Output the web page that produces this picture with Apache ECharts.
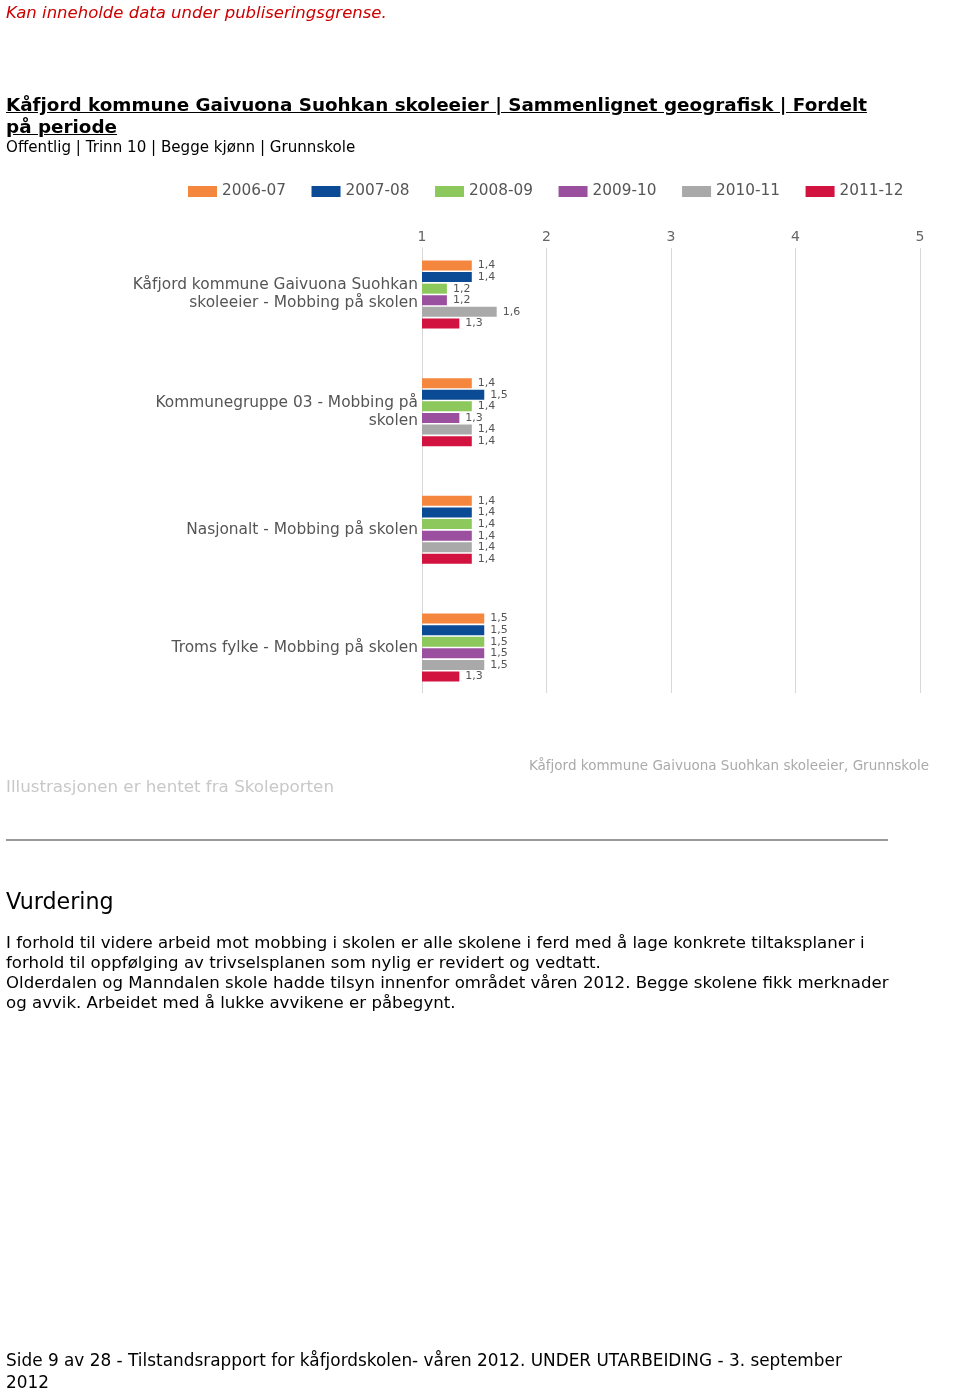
<!DOCTYPE html>
<html>
<head>
<meta charset="utf-8">
<script src="https://cdn.jsdelivr.net/npm/echarts@6/dist/echarts.min.js"></script>
<style>
  html, body { margin: 0; padding: 0; background: #fff; }
  body { width: 960px; height: 1392px; position: relative; overflow: hidden; font-family: "DejaVu Sans", Verdana, sans-serif; color: #000; }
  #chart { position: absolute; left: 0; top: 0; width: 960px; height: 1392px; }
  .t { position: absolute; left: 6px; white-space: nowrap; z-index: 2; }
  #warn { top: 3px; font-size: 16.5px; line-height: 20px; color: #cc0000; font-style: italic; }
  #title { top: 94px; font-size: 18.35px; line-height: 22px; font-weight: bold; text-decoration: underline; }
  #sub { top: 138px; font-size: 15.1px; line-height: 18px; }
  #hr { position: absolute; left: 6px; top: 839px; width: 882px; height: 0; border-top: 2px solid #9a9a9a; z-index: 2; }
  #vurd { top: 887px; font-size: 22.2px; line-height: 28px; }
  #para { top: 933px; font-size: 16.6px; line-height: 20px; }
  #foot { top: 1349px; font-size: 16.9px; line-height: 22px; }
</style>
</head>
<body>
<div id="chart"></div>
<div class="t" id="warn">Kan inneholde data under publiseringsgrense.</div>
<div class="t" id="title">Kåfjord kommune Gaivuona Suohkan skoleeier | Sammenlignet geografisk | Fordelt<br>på periode</div>
<div class="t" id="sub">Offentlig | Trinn 10 | Begge kjønn | Grunnskole</div>
<div id="hr"></div>
<div class="t" id="vurd">Vurdering</div>
<div class="t" id="para">I forhold til videre arbeid mot mobbing i skolen er alle skolene i ferd med å lage konkrete tiltaksplaner i<br>forhold til oppfølging av trivselsplanen som nylig er revidert og vedtatt.<br>Olderdalen og Manndalen skole hadde tilsyn innenfor området våren 2012. Begge skolene fikk merknader<br>og avvik. Arbeidet med å lukke avvikene er påbegynt.</div>
<div class="t" id="foot">Side 9 av 28 - Tilstandsrapport for kåfjordskolen- våren 2012. UNDER UTARBEIDING - 3. september<br>2012</div>
<script>
const categories = [
  "Kåfjord kommune Gaivuona Suohkan\nskoleeier - Mobbing på skolen",
  "Kommunegruppe 03 - Mobbing på\nskolen",
  "Nasjonalt - Mobbing på skolen",
  "Troms fylke - Mobbing på skolen"
];
const periods = ["2006-07", "2007-08", "2008-09", "2009-10", "2010-11", "2011-12"];
const v2006_07 = [1.4, 1.4, 1.4, 1.5];
const v2007_08 = [1.4, 1.5, 1.4, 1.5];
const v2008_09 = [1.2, 1.4, 1.4, 1.5];
const v2009_10 = [1.2, 1.3, 1.4, 1.5];
const v2010_11 = [1.6, 1.4, 1.4, 1.5];
const v2011_12 = [1.3, 1.4, 1.4, 1.3];
const xTicks = [1, 2, 3, 4, 5];
const colors = ["#f5863e", "#0b4a95", "#8cc85b", "#9b4f9f", "#a9a9a9", "#d21340"];
const seriesValues = [v2006_07, v2007_08, v2008_09, v2009_10, v2010_11, v2011_12];

const chartFont = "DejaVu Sans";
const chart = echarts.init(document.getElementById('chart'), null, { renderer: 'canvas' });

const series = periods.map((p, i) => ({
  name: p,
  type: 'bar',
  xAxisIndex: 0,
  yAxisIndex: 0,
  data: seriesValues[i],
  barWidth: 10,
  barGap: '16%',
  itemStyle: { color: colors[i] },
  label: {
    show: true,
    position: 'right',
    distance: 6,
    color: '#555',
    fontFamily: chartFont,
    fontSize: 11,
    formatter: (d) => d.value.toFixed(1).replace('.', ',')
  }
}));

chart.setOption({
  animation: false,
  color: colors,
  textStyle: { fontFamily: chartFont },
  legend: {
    data: periods,
    left: 183,
    top: 179,
    icon: 'rect',
    itemWidth: 29,
    itemHeight: 11,
    itemGap: 25.6,
    textStyle: { color: '#555', fontSize: 15.3, fontFamily: chartFont },
  },
  grid: [
    { left: 422, width: 498, top: 235.6, height: 470.8 },
    { left: 422, width: 498, top: 248, height: 445 }
  ],
  xAxis: [
    { type: 'value', gridIndex: 0, min: 1, max: 5, interval: 1, show: false },
    {
      type: 'value', gridIndex: 1, min: xTicks[0], max: xTicks[xTicks.length - 1], interval: 1, position: 'top',
      axisLine: { show: false }, axisTick: { show: false },
      axisLabel: { color: '#666', fontSize: 14, fontFamily: chartFont, margin: 4 },
      splitLine: { show: true, lineStyle: { color: '#d8d8d8', width: 1 } }
    }
  ],
  yAxis: [
    {
      type: 'category', gridIndex: 0, data: categories, inverse: true,
      axisLine: { show: false }, axisTick: { show: false },
      axisLabel: { color: '#555', fontSize: 15.4, fontFamily: chartFont, margin: 4, lineHeight: 18, align: 'right' }
    },
    {
      type: 'value', gridIndex: 1, min: 0, max: 1,
      axisLabel: { show: false }, axisTick: { show: false }, splitLine: { show: false },
      axisLine: { show: true, lineStyle: { color: '#d8d8d8', width: 1 } }
    }
  ],
  graphic: [
    {
      type: 'text', right: 31, top: 759,
      style: { text: 'Kåfjord kommune Gaivuona Suohkan skoleeier, Grunnskole', fill: '#aaa', font: '13.5px "DejaVu Sans"' }
    },
    {
      type: 'text', left: 6, top: 779,
      style: { text: 'Illustrasjonen er hentet fra Skoleporten', fill: '#c8c8c8', font: '16.7px "DejaVu Sans"' }
    }
  ],
  series: series
});
</script>
</body>
</html>
